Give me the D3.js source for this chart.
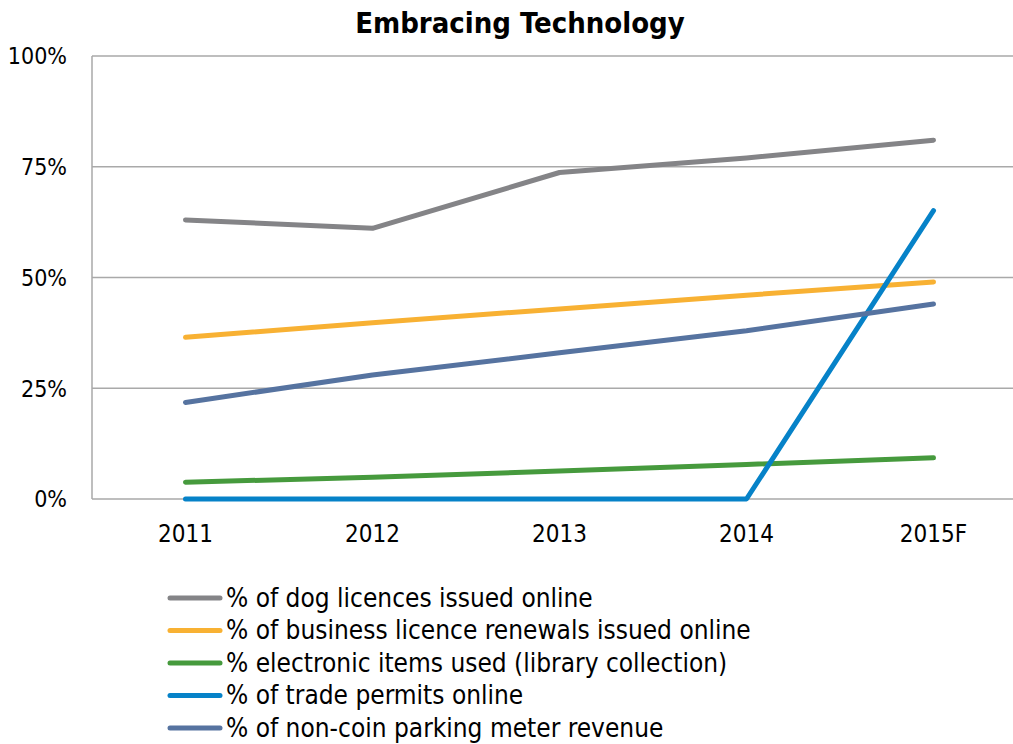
<!DOCTYPE html>
<html><head><meta charset="utf-8">
<script src="https://cdn.jsdelivr.net/npm/d3@7"></script>
<style>
html,body{margin:0;padding:0;background:#fff;}
svg{display:block;}
text{font-family:"DejaVu Sans Condensed","DejaVu Sans",sans-serif;font-stretch:condensed;fill:#000;}
</style></head>
<body>
<svg id="chart" width="1013" height="744"></svg>
<script>
const categories = ["2011","2012","2013","2014","2015F"];
const yTicks = [0, 25, 50, 75, 100];
const seriesNames = [
  "% of dog licences issued online",
  "% of business licence renewals issued online",
  "% electronic items used (library collection)",
  "% of trade permits online",
  "% of non-coin parking meter revenue"
];
const seriesColors = ["#848487","#f8b133","#469a3d","#0682c8","#5673a0"];
const dogLicences      = [63.0, 61.1, 73.7, 77.0, 81.0];
const businessLicences = [36.5, 39.8, 42.9, 46.0, 49.0];
const electronicItems  = [3.8, 4.9, 6.3, 7.8, 9.3];
const tradePermits     = [0, 0, 0, 0, 65.1];
const parkingMeter     = [21.8, 28.0, 33.0, 38.0, 44.0];
const seriesValues = [dogLicences, businessLicences, electronicItems, tradePermits, parkingMeter];

const svg = d3.select("#chart");
const W = 1013, plotLeft = 92, plotTop = 56, plotBottom = 499;
const x = d3.scalePoint().domain(categories).range([plotLeft, plotLeft + 935]).padding(0.5);
const y = d3.scaleLinear().domain([0, 100]).range([plotBottom, plotTop]);

// gridlines
svg.append("g").selectAll("line").data(yTicks).join("line")
  .attr("x1", plotLeft).attr("x2", W)
  .attr("y1", d => y(d)).attr("y2", d => y(d))
  .attr("stroke", "#a9a9a9").attr("stroke-width", 1.5);
// y axis line
svg.append("line").attr("x1", plotLeft).attr("x2", plotLeft).attr("y1", y(100)).attr("y2", y(0))
  .attr("stroke", "#a9a9a9").attr("stroke-width", 1.5);

// y tick labels
svg.append("g").selectAll("text").data(yTicks).join("text")
  .attr("x", 67).attr("y", d => y(d)).attr("dy", "0.36em")
  .attr("text-anchor", "end").attr("font-size", 23)
  .text(d => d + "%");

// x labels
svg.append("g").selectAll("text").data(categories).join("text")
  .attr("x", d => x(d)).attr("y", 542)
  .attr("text-anchor", "middle").attr("font-size", 24)
  .text(d => d);

// lines
const line = d3.line().x((d, i) => x(categories[i])).y(d => y(d));
svg.append("g").selectAll("path").data(seriesValues).join("path")
  .attr("d", d => line(d))
  .attr("fill", "none")
  .attr("stroke", (d, i) => seriesColors[i])
  .attr("stroke-width", 5)
  .attr("stroke-linecap", "round")
  .attr("stroke-linejoin", "round");

// title
svg.append("text").attr("x", 520).attr("y", 33).attr("text-anchor", "middle")
  .attr("font-size", 29).attr("font-weight", "bold").text("Embracing Technology");

// legend
const lg = svg.append("g").selectAll("g").data(seriesNames).join("g")
  .attr("transform", (d, i) => `translate(0,${598 + i * 32.5})`);
lg.append("line").attr("x1", 170).attr("x2", 220).attr("y1", 0).attr("y2", 0)
  .attr("stroke", (d, i) => seriesColors[i]).attr("stroke-width", 5).attr("stroke-linecap", "round");
lg.append("text").attr("x", 226).attr("y", 0).attr("dy", "0.33em")
  .attr("font-size", 26).text(d => d);
</script>
</body></html>
